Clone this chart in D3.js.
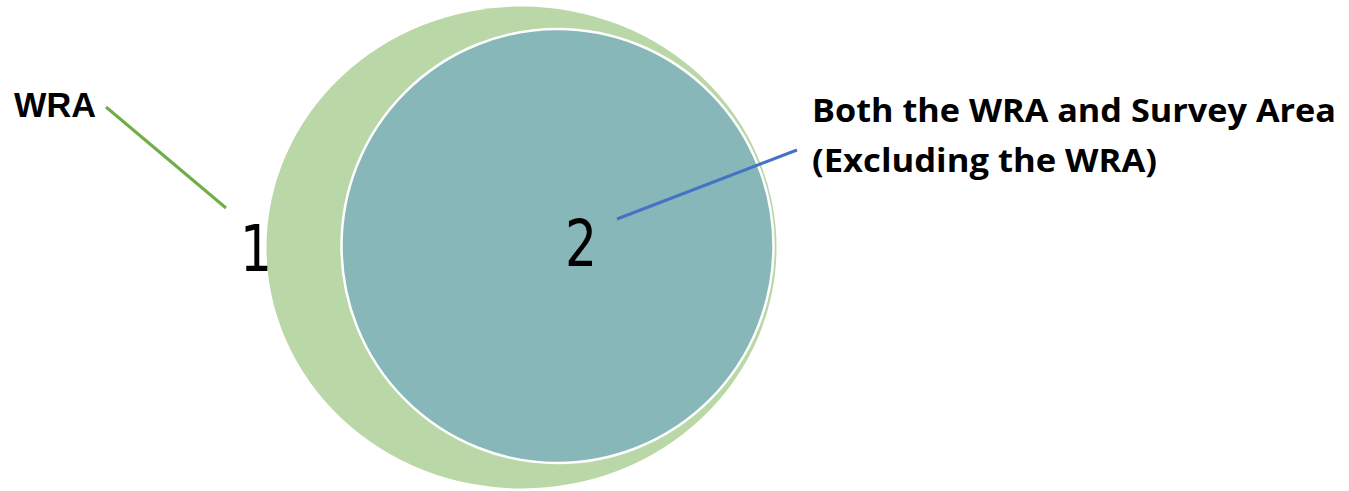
<!DOCTYPE html>
<html>
<head>
<meta charset="utf-8">
<script src="https://cdn.jsdelivr.net/npm/d3@7"></script>
<style>
  html, body { margin: 0; padding: 0; background: #fff; }
  #chart { width: 1349px; height: 491px; }
</style>
</head>
<body>
<div id="chart"></div>
<script>
// the two nested areas, outer first
const areaNames = ['WRA', 'Both the WRA and Survey Area (Excluding the WRA)'];
const areaIds = [1, 2];
const labelLines = [['WRA'], ['Both the WRA and Survey Area', '(Excluding the WRA)']];
const fillColors = ['#b9d7a7', '#88b7ba'];
const leaderColors = ['#70ad47', '#4472c4'];

const width = 1349;
const height = 491;

const svg = d3.select('#chart').append('svg')
  .attr('width', width)
  .attr('height', height);

// layout positions (px)
const shapes = [
  { cx: 521.5, cy: 247.5, rx: 255, ry: 241, stroke: 'none' },
  { cx: 557.5, cy: 246, rx: 216, ry: 217, stroke: '#fff' }
];
const numPos = [{ x: 256, y: 271 }, { x: 581, y: 266 }];
const leaders = [
  { x1: 106, y1: 107, x2: 226, y2: 208 },
  { x1: 617, y1: 219, x2: 797, y2: 150 }
];
const labelPos = [
  { x: 14, y: 117, size: 35, widths: [82], lh: 0 },
  { x: 812, y: 122, size: 33, widths: [524, 345], lh: 50 }
];

const data = areaIds.map((id, i) => ({ id, name: areaNames[i], i }));

svg.append('g')
  .selectAll('ellipse')
  .data(data)
  .enter().append('ellipse')
  .attr('cx', d => shapes[d.i].cx)
  .attr('cy', d => shapes[d.i].cy)
  .attr('rx', d => shapes[d.i].rx)
  .attr('ry', d => shapes[d.i].ry)
  .attr('fill', d => fillColors[d.i])
  .attr('stroke', d => shapes[d.i].stroke)
  .attr('stroke-width', 2.5);

svg.append('g')
  .selectAll('text')
  .data(data)
  .enter().append('text')
  .attr('x', d => numPos[d.i].x)
  .attr('y', d => numPos[d.i].y)
  .attr('text-anchor', 'middle')
  .attr('font-family', 'DejaVu Sans, sans-serif')
  .attr('font-size', 64)
  .attr('textLength', 32)
  .attr('lengthAdjust', 'spacingAndGlyphs')
  .attr('fill', '#000')
  .text(d => d.id);

svg.append('g')
  .selectAll('line')
  .data(data)
  .enter().append('line')
  .attr('x1', d => leaders[d.i].x1)
  .attr('y1', d => leaders[d.i].y1)
  .attr('x2', d => leaders[d.i].x2)
  .attr('y2', d => leaders[d.i].y2)
  .attr('stroke', d => leaderColors[d.i])
  .attr('stroke-width', 3);

const labels = svg.append('g')
  .selectAll('text')
  .data(data)
  .enter().append('text')
  .attr('font-family', d => d.i === 0 ? 'Liberation Sans, Arial, sans-serif' : 'Open Sans, sans-serif')
  .attr('font-weight', 'bold')
  .attr('font-size', d => labelPos[d.i].size)
  .attr('fill', '#000');

labels.selectAll('tspan')
  .data(d => labelLines[d.i].map((t, j) => ({ t, j, p: labelPos[d.i] })))
  .enter().append('tspan')
  .attr('x', d => d.p.x)
  .attr('y', d => d.p.y + d.j * d.p.lh)
  .attr('textLength', d => d.p.widths[d.j])
  .attr('lengthAdjust', 'spacingAndGlyphs')
  .text(d => d.t);
</script>
</body>
</html>
